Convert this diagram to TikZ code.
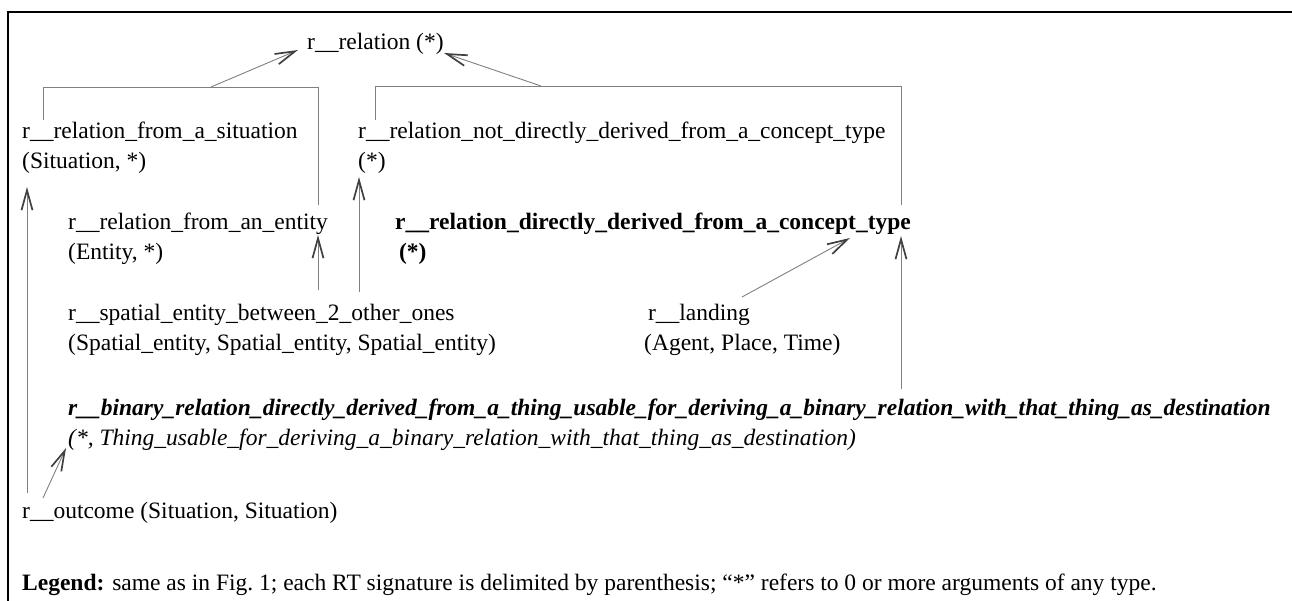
\documentclass[tikz,border=0pt]{standalone}
\usepackage{fontspec}
\setmainfont{Liberation Serif}
\usetikzlibrary{arrows.meta}

\begin{document}
\begin{tikzpicture}[x=1pt, y=-1pt,
    lbl/.style={anchor=base west, inner sep=0pt, align=left, font=\fontsize{23.5}{30}\selectfont},
    link/.style={draw=black!50, line width=0.9pt},
    isa/.style={link, -{Straight Barb[length=20pt, width=11pt, line width=1.7pt, color=black!75]}}]
    \useasboundingbox (0,0) rectangle (1292,601);
    \draw[line width=1.6pt] (8,601) -- (8,12) -- (1292,12);
    % relation types
    \node[lbl] (rel) at (307,50) {r\_\_relation (*)};
    \node[lbl] (sit) at (22,169) {r\_\_relation\_from\_a\_situation\\(Situation, *)};
    \node[lbl] (notdir) at (358,169) {r\_\_relation\_not\_directly\_derived\_from\_a\_concept\_type\\(*)};
    \node[lbl] (ent) at (68,260) {r\_\_relation\_from\_an\_entity\\(Entity, *)};
    \node[lbl] (dir) at (395,260) {\textbf{r\_\_relation\_directly\_derived\_from\_a\_concept\_type}\\\textbf{\,(*)}};
    \node[lbl] (spat) at (68,350) {r\_\_spatial\_entity\_between\_2\_other\_ones\\(Spatial\_entity, Spatial\_entity, Spatial\_entity)};
    \node[lbl] (land) at (644,350) {\,r\_\_landing\\(Agent, Place, Time)};
    \node[lbl] (bin) at (68,445) {\textbf{\textit{r\_\_binary\_relation\_directly\_derived\_from\_a\_thing\_usable\_for\_deriving\_a\_binary\_relation\_with\_that\_thing\_as\_destination}}\\\textit{(*, Thing\_usable\_for\_deriving\_a\_binary\_relation\_with\_that\_thing\_as\_destination)}};
    \node[lbl] (out) at (22,518) {r\_\_outcome (Situation, Situation)};
    \node[lbl] (legend) at (22,590) {\textbf{Legend:} same as in Fig.~1; each RT signature is delimited by parenthesis; ``*'' refers to 0 or more arguments of any type.};
    % end points of the links
    \coordinate (sitTop) at (43,120);
    \coordinate (entTop) at (318,205);
    \coordinate (sitMid) at (211,87);
    \coordinate (relSW) at (298,50);
    \coordinate (ndTop) at (375,120);
    \coordinate (dirTop) at (901,205);
    \coordinate (ndMid) at (541,86);
    \coordinate (relSE) at (444,53);
    \coordinate (entBot) at (318,235);
    \coordinate (spatTopL) at (318,290);
    \coordinate (ndBot) at (359,177);
    \coordinate (spatTopR) at (359,292);
    \coordinate (sitBot) at (27,187);
    \coordinate (outTop) at (27,493);
    \coordinate (landTop) at (742,297);
    \coordinate (dirBotL) at (850,238);
    \coordinate (binTop) at (901,389);
    \coordinate (dirBotR) at (901,236);
    \coordinate (outTopR) at (43,498);
    \coordinate (binBot) at (66,448);
    % subtype links
    \draw[link] (sitTop) |- (entTop |- sitMid) -- (entTop);
    \draw[link] (ndTop) |- (dirTop |- ndMid) -- (dirTop);
    \draw[isa] (sitMid) -- (relSW);
    \draw[isa] (ndMid) -- (relSE);
    \draw[isa] (spatTopL) -- (entBot);
    \draw[isa] (spatTopR) -- (ndBot);
    \draw[isa] (outTop) -- (sitBot);
    \draw[isa] (landTop) -- (dirBotL);
    \draw[isa] (binTop) -- (dirBotR);
    \draw[isa] (outTopR) -- (binBot);
\end{tikzpicture}
\end{document}
